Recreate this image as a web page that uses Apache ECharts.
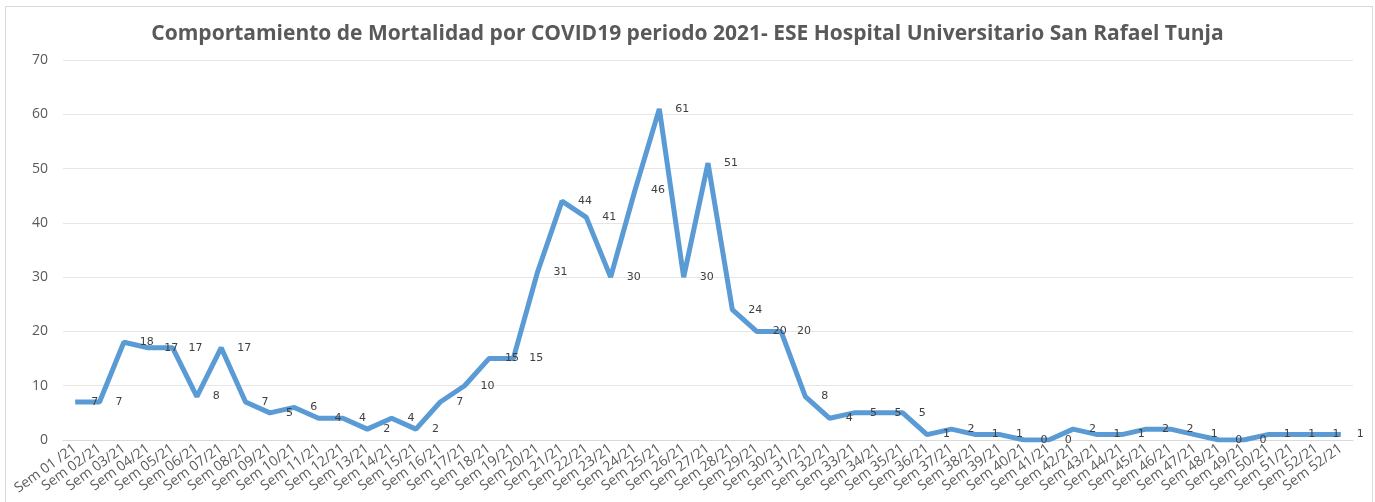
<!DOCTYPE html>
<html>
<head>
<meta charset="utf-8">
<script src="https://cdn.jsdelivr.net/npm/echarts@6/dist/echarts.min.js"></script>
<style>
    html, body { margin: 0; padding: 0; background: #fff; }
    #wrap { position: relative; width: 1375px; height: 502px; overflow: hidden; }
    #frame { position: absolute; left: 5px; top: 6px; width: 1366px; height: 520px; border: 1px solid #d9d9d9; }
    #chart { position: absolute; left: 0; top: 0; width: 1375px; height: 502px; }
</style>
</head>
<body>
<div id="wrap">
    <div id="frame"></div>
    <div id="chart"></div>
</div>
<script>
// Semanas epidemiológicas 2021
const semanas = [
    "Sem 01 /21", "Sem 02/21", "Sem 03/21", "Sem 04/21", "Sem 05/21", "Sem 06/21", "Sem 07/21",
    "Sem 08/21", "Sem 09/21", "Sem 10/21", "Sem 11/21", "Sem 12/21", "Sem 13/21", "Sem 14/21",
    "Sem 15/21", "Sem 16/21", "Sem 17/21", "Sem 18/21", "Sem 19/21", "Sem 20/21", "Sem 21/21",
    "Sem 22/21", "Sem 23/21", "Sem 24/21", "Sem 25/21", "Sem 26/21", "Sem 27/21", "Sem 28/21",
    "Sem 29/21", "Sem 30/21", "Sem 31/21", "Sem 32/21", "Sem 33/21", "Sem 34/21", "Sem 35/21",
    "Sem 36/21", "Sem 37/21", "Sem 38/21", "Sem 39/21", "Sem 40/21", "Sem 41/21", "Sem 42/21",
    "Sem 43/21", "Sem 44/21", "Sem 45/21", "Sem 46/21", "Sem 47/21", "Sem 48/21", "Sem 49/21",
    "Sem 50/21", "Sem 51/21", "Sem 52/21", "Sem 52/21"
];

// Muertes por semana
const muertes = [
    7, 7, 18, 17, 17, 8, 17, 7, 5, 6, 4, 4, 2, 4, 2, 7, 10, 15, 15, 31, 44,
    41, 30, 46, 61, 30, 51, 24, 20, 20, 8, 4, 5, 5, 5, 1, 2, 1, 1, 0, 0, 2,
    1, 1, 2, 2, 1, 0, 0, 1, 1, 1, 1
];

const yTicks = [0, 10, 20, 30, 40, 50, 60, 70];

const chart = echarts.init(document.getElementById("chart"));

chart.setOption({
    animation: false,
    title: {
        text: "Comportamiento de Mortalidad por COVID19 periodo 2021- ESE Hospital Universitario San Rafael Tunja",
        left: "center",
        top: 19,
        textStyle: {
            fontFamily: "Open Sans",
            fontSize: 21,
            fontWeight: "bold",
            color: "#595959"
        }
    },
    grid: { left: 63, right: 22, top: 60, bottom: 62 },
    xAxis: {
        type: "category",
        data: semanas,
        boundaryGap: true,
        axisLine: { lineStyle: { color: "#d9d9d9" } },
        axisTick: { show: false },
        axisLabel: {
            interval: 0,
            rotate: 36,
            margin: 7,
            fontFamily: "Open Sans",
            fontSize: 14,
            color: "#595959"
        }
    },
    yAxis: {
        type: "value",
        min: yTicks[0],
        max: yTicks[yTicks.length - 1],
        interval: 10,
        axisLine: { show: false },
        axisTick: { show: false },
        splitLine: { lineStyle: { color: "#e6e6e6" } },
        axisLabel: {
            margin: 15,
            fontFamily: "Open Sans",
            fontSize: 14,
            color: "#595959"
        }
    },
    series: [
        {
            type: "line",
            data: muertes,
            symbol: "circle",
            symbolSize: 2,
            showSymbol: true,
            showAllSymbol: true,
            itemStyle: { color: "rgba(91,155,213,0)" },
            lineStyle: { color: "#5b9bd5", width: 5 },
            label: {
                show: true,
                position: "right",
                distance: 15,
                fontFamily: "DejaVu Sans",
                fontSize: 11,
                color: "#404040"
            },
            labelLayout: { hideOverlap: false }
        }
    ]
});
</script>
</body>
</html>
